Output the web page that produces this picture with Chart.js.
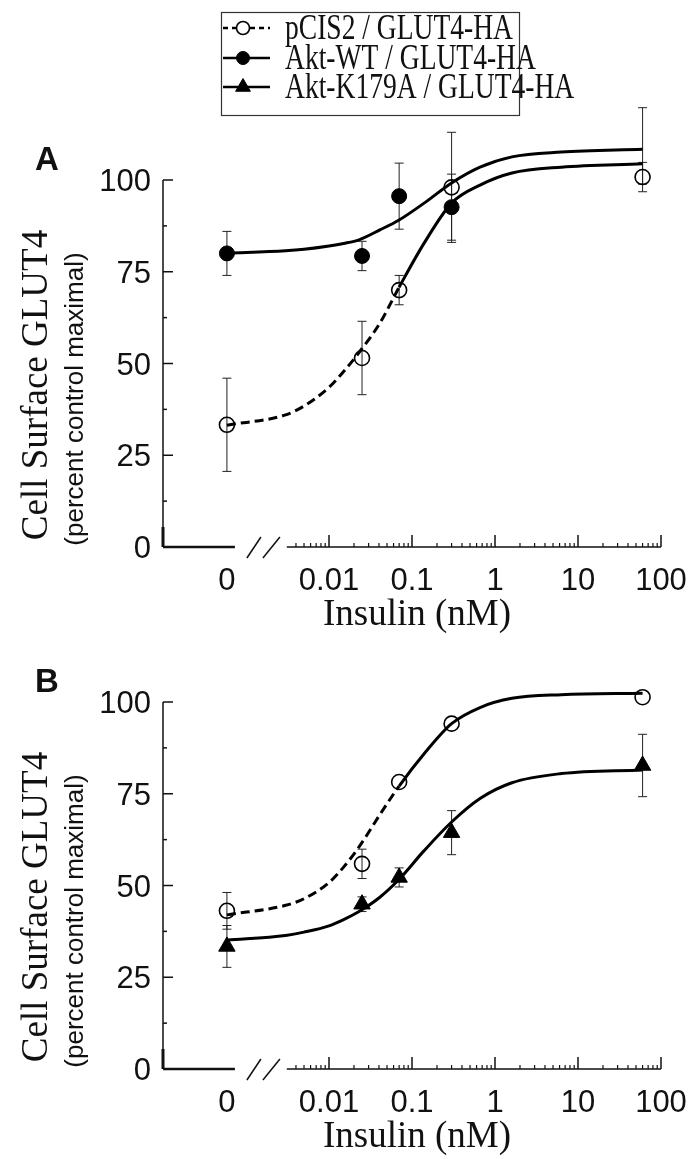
<!DOCTYPE html>
<html>
<head>
<meta charset="utf-8">
<title>Cell surface GLUT4 vs insulin</title>
<script src="https://cdn.jsdelivr.net/npm/chart.js@4.4.1/dist/chart.umd.min.js"></script>
<style>
  html, body { margin: 0; padding: 0; background: #fff; }
  #wrap { position: relative; width: 694px; height: 1159px; }
  canvas { position: absolute; left: 0; }
  #chartA { top: 0; }
  #chartB { top: 640px; }
</style>
</head>
<body>
<div id="wrap">
  <canvas id="chartA" width="694" height="640"></canvas>
  <canvas id="chartB" width="694" height="519"></canvas>
</div>
<script>
const seriesNames = ["pCIS2 / GLUT4-HA", "Akt-WT / GLUT4-HA", "Akt-K179A / GLUT4-HA"];
const doses = [0, 0.025, 0.07, 0.3, 60];          // insulin, nM
const yTicks = [0, 25, 50, 75, 100];
const xTickDoses = [0, 0.01, 0.1, 1, 10, 100];
const xTickLabels = ["0", "0.01", "0.1", "1", "10", "100"];

// panel A: means and error bars
const aCtrl = [33.3, 51.5, 70, 98, 100.8];
const aCtrlErr = [12.7, 10, 4, 15, 4];
const aWT = [80, 79.3, 95.6, 92.6, 109.3];
const aWTErr = [6, 4, 9, 9, 10.4];

// panel B
const bCtrl = [43.1, 55.9, 78.2, 94.1, 101.3];
const bCtrlErr = [5, 4, 0, 0, 0];
const bKD = [33.4, 44.9, 52.2, 64.4, 82.7];
const bKDErr = [5.7, 2, 2.6, 6, 8.5];

// fitted curves
const curveDoses = [0, 0.003, 0.005, 0.01, 0.015, 0.023, 0.041, 0.07, 0.14, 0.3, 0.66, 1.6, 6.3, 60];
const aCtrlFit = [33.2, 36, 38.4, 43.5, 47.8, 53, 61, 70.8, 82.8, 93.7, 98.6, 101.9, 103.5, 104.4];
const aWTFit = [80.1, 80.7, 81.1, 82, 82.7, 83.7, 86.4, 89.1, 93.7, 99.2, 103.5, 106.3, 107.6, 108.4];
const bCtrlFit = [42, 44.6, 46.4, 50.8, 55, 60.5, 69.3, 77.1, 85.9, 94.1, 98.5, 101, 102, 102.4];
const bKDFit = [35.1, 36.4, 37.3, 39, 40.7, 42.9, 46.8, 51.7, 59.5, 67.3, 73.7, 78, 80.5, 81.5];

// "0" sits left of the axis break, in log10 units of the x axis
const ZERO_POS = -3.23;
const DASH_END = Math.log10(0.07);
const xOf = d => d === 0 ? ZERO_POS : Math.log10(d);
const pts = (xs, ys) => xs.map((d, i) => ({ x: xOf(d), y: ys[i] }));

const styles = {
    ctrl: { pointStyle: "circle", radius: 7.5, fill: "rgba(0,0,0,0)", border: "#000", borderWidth: 1.6 },
    wt:   { pointStyle: "circle", radius: 7.5, fill: "#000", border: "#000", borderWidth: 1 },
    kd:   { pointStyle: "triangle", radius: 9.5, fill: "#000", border: "#000", borderWidth: 1 }
};

function makeScatter(name, ys, err, st) {
    return {
        type: "scatter", label: name, data: pts(doses, ys), err,
        pointStyle: st.pointStyle, pointRadius: st.radius,
        pointBackgroundColor: st.fill, pointBorderColor: st.border, pointBorderWidth: st.borderWidth,
        showLine: false, clip: false, order: 0
    };
}

function makeFit(name, ys, dashed) {
    const ds = {
        type: "line", label: name + " fit", data: pts(curveDoses, ys),
        borderColor: "#000", borderWidth: 3, pointRadius: 0,
        cubicInterpolationMode: "monotone", fill: false, clip: false, order: 1
    };
    if (dashed) ds.segment = { borderDash: c => c.p1.parsed.x <= DASH_END + 1e-6 ? [9, 5] : undefined };
    return ds;
}

const errorBars = {
    id: "errorBars",
    beforeDatasetsDraw(chart) {
        const { ctx } = chart;
        const y = chart.scales.y;
        ctx.save();
        ctx.strokeStyle = "#222";
        ctx.lineWidth = 1;
        chart.data.datasets.forEach((ds, i) => {
            if (!ds.err) return;
            const meta = chart.getDatasetMeta(i);
            meta.data.forEach((pt, j) => {
                const e = ds.err[j];
                if (!e) return;
                const top = y.getPixelForValue(ds.data[j].y + e);
                const bot = y.getPixelForValue(ds.data[j].y - e);
                ctx.beginPath();
                ctx.moveTo(pt.x, top); ctx.lineTo(pt.x, bot);
                ctx.moveTo(pt.x - 4.5, top); ctx.lineTo(pt.x + 4.5, top);
                ctx.moveTo(pt.x - 4.5, bot); ctx.lineTo(pt.x + 4.5, bot);
                ctx.stroke();
            });
        });
        ctx.restore();
    }
};

function line(ctx, x1, y1, x2, y2) {
    ctx.beginPath(); ctx.moveTo(x1, y1); ctx.lineTo(x2, y2); ctx.stroke();
}

const brokenAxes = {
    id: "brokenAxes",
    afterDraw(chart, args, opts) {
        const { ctx } = chart;
        const x = chart.scales.x, y = chart.scales.y;
        const x0 = x.left, yb = y.bottom;
        ctx.save();
        ctx.strokeStyle = "#111";
        ctx.fillStyle = "#111";

        // y axis
        ctx.lineWidth = 1.5;
        line(ctx, x0, y.top, x0, yb);
        ctx.lineWidth = 3;
        line(ctx, x0, yb - 20, x0, yb);
        ctx.lineWidth = 1.5;
        for (let v = 12.5; v <= 100; v += 12.5) {
            const py = y.getPixelForValue(v);
            line(ctx, x0, py, x0 + (v % 25 === 0 ? 10 : 4), py);
        }
        ctx.font = '31px "Liberation Sans", Arial, sans-serif';
        ctx.textAlign = "right";
        yTicks.forEach(v => ctx.fillText(String(v), x0 - 12, y.getPixelForValue(v) + 11));

        // x axis: short piece for 0, break, then log decades
        const zx = x.getPixelForValue(ZERO_POS);
        ctx.lineWidth = 2.5;
        line(ctx, x0, yb, zx + 8, yb);
        ctx.lineWidth = 1.5;
        line(ctx, zx + 20, yb + 11, zx + 34, yb - 10);
        line(ctx, zx + 36, yb + 11, zx + 53, yb - 10);
        const logStart = x.getPixelForValue(Math.log10(0.0031));
        line(ctx, logStart, yb, x.right, yb);
        ctx.lineWidth = 1.2;
        for (let dec = -3; dec <= 1; dec++) {
            for (let m = 2; m <= 9; m++) {
                const v = Math.log10(m) + dec;
                if (v < Math.log10(0.0035)) continue;
                const px = x.getPixelForValue(v);
                line(ctx, px, yb, px, yb - 4);
            }
        }
        ctx.lineWidth = 1.5;
        xTickDoses.forEach(d => {
            if (d === 0) return;
            const px = x.getPixelForValue(xOf(d));
            line(ctx, px, yb, px, yb - 12);
        });
        ctx.textAlign = "center";
        xTickDoses.forEach((d, i) => ctx.fillText(xTickLabels[i], x.getPixelForValue(xOf(d)), yb + 43));

        // titles
        ctx.font = '37px "Liberation Serif", "Times New Roman", serif';
        ctx.fillText("Insulin (nM)", 417, yb + 78);
        ctx.save();
        ctx.translate(47, y.top + 205);
        ctx.rotate(-Math.PI / 2);
        ctx.fillText("Cell Surface GLUT4", 0, 0);
        ctx.restore();
        ctx.save();
        ctx.font = '26px "Liberation Sans", Arial, sans-serif';
        ctx.translate(83, y.top + 219);
        ctx.rotate(-Math.PI / 2);
        ctx.fillText("(percent control maximal)", 0, 0);
        ctx.restore();

        ctx.font = 'bold 33px "Liberation Sans", Arial, sans-serif';
        ctx.fillText(opts.letter, 47, y.top - 10);

        if (opts.legend) drawLegend(ctx);
        ctx.restore();
    }
};

function drawLegend(ctx) {
    const rows = [
        { y: 28, st: styles.ctrl, dash: [5, 4] },
        { y: 58, st: styles.wt, dash: [] },
        { y: 87, st: styles.kd, dash: [] }
    ];
    ctx.save();
    ctx.strokeStyle = "#333";
    ctx.lineWidth = 1.2;
    ctx.strokeRect(221.5, 12.5, 298, 103);
    ctx.font = '35px "Liberation Serif", "Times New Roman", serif';
    const sx = 228 / ctx.measureText(seriesNames[0]).width;
    rows.forEach((r, i) => {
        ctx.strokeStyle = "#000";
        ctx.lineWidth = 2.5;
        ctx.setLineDash(r.dash);
        line(ctx, 223, r.y, 270, r.y);
        ctx.setLineDash([]);
        ctx.fillStyle = r.st.fill === "rgba(0,0,0,0)" ? "#fff" : r.st.fill;
        ctx.strokeStyle = r.st.border;
        ctx.lineWidth = r.st.borderWidth;
        Chart.helpers.drawPoint(ctx, { pointStyle: r.st.pointStyle, radius: r.st.radius - 1, rotation: 0, borderWidth: r.st.borderWidth }, 243, r.y);
        ctx.fillStyle = "#111";
        ctx.save();
        ctx.translate(285, r.y + 11);
        ctx.scale(sx, 1);
        ctx.textAlign = "left";
        ctx.fillText(seriesNames[i], 0, 0);
        ctx.restore();
    });
    ctx.restore();
}

function makeChart(id, datasets, padding, letter, legend) {
    return new Chart(document.getElementById(id), {
        type: "scatter",
        data: { datasets },
        options: {
            responsive: false,
            animation: false,
            devicePixelRatio: 1,
            layout: { padding },
            scales: {
                x: { type: "linear", min: -4, max: 2, display: false },
                y: { type: "linear", min: 0, max: 100, display: false }
            },
            plugins: {
                legend: { display: false },
                tooltip: { enabled: false },
                brokenAxes: { letter, legend }
            }
        },
        plugins: [errorBars, brokenAxes]
    });
}

makeChart("chartA", [
    makeScatter(seriesNames[0], aCtrl, aCtrlErr, styles.ctrl),
    makeScatter(seriesNames[1], aWT, aWTErr, styles.wt),
    makeFit(seriesNames[0], aCtrlFit, true),
    makeFit(seriesNames[1], aWTFit, false)
], { left: 163, right: 33, top: 180, bottom: 93 }, "A", true);

makeChart("chartB", [
    makeScatter(seriesNames[0], bCtrl, bCtrlErr, styles.ctrl),
    makeScatter(seriesNames[2], bKD, bKDErr, styles.kd),
    makeFit(seriesNames[0], bCtrlFit, true),
    makeFit(seriesNames[2], bKDFit, false)
], { left: 163, right: 33, top: 62, bottom: 90 }, "B", false);
</script>
</body>
</html>
